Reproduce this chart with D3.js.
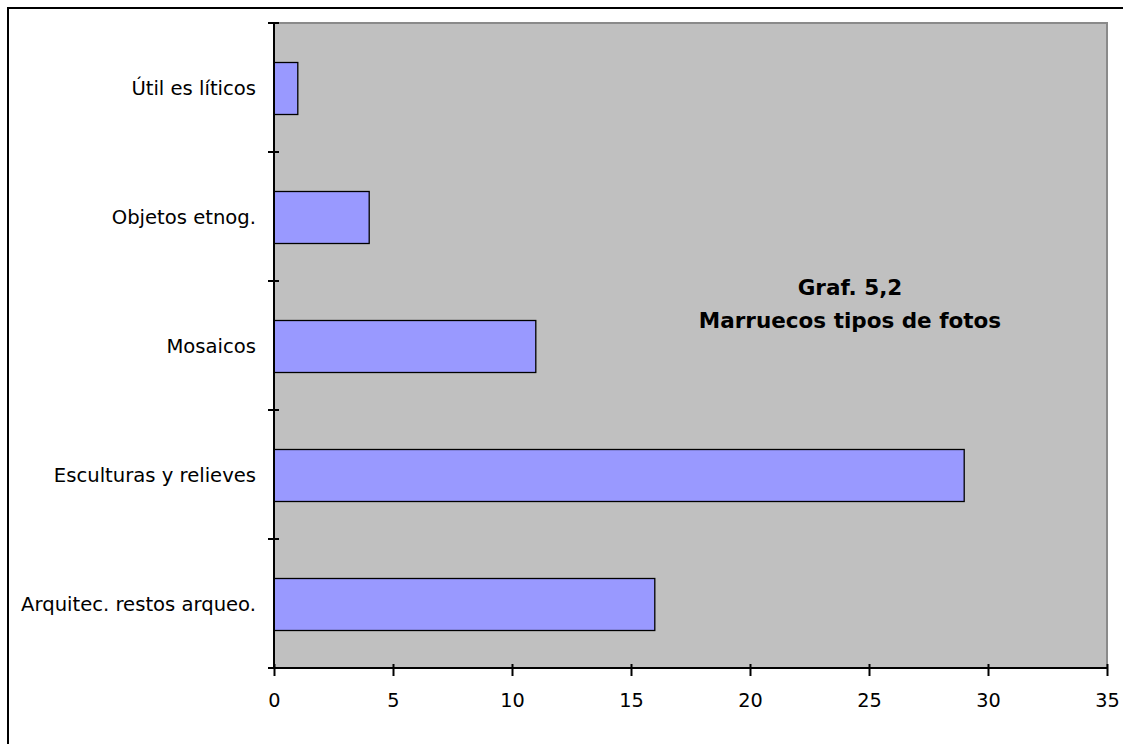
<!DOCTYPE html>
<html>
<head>
<meta charset="utf-8">
<script src="https://cdn.jsdelivr.net/npm/d3@7"></script>
<style>
  html, body { margin: 0; padding: 0; background: #fff; }
  svg { display: block; }
</style>
</head>
<body>
<svg id="chart" width="1123" height="744"></svg>
<script>
// ---- data ----
const categories = ["Útil es líticos", "Objetos etnog.", "Mosaicos", "Esculturas y relieves", "Arquitec. restos arqueo."];
const values = [1, 4, 11, 29, 16];
const xTicks = [0, 5, 10, 15, 20, 25, 30, 35];
const titleLines = ["Graf. 5,2", "Marruecos tipos de fotos"];

// ---- layout ----
const W = 1123, H = 744;
const plot = { left: 274, right: 1107, top: 23, bottom: 668 };

const svg = d3.select("#chart");

// outer border (left + top visible)
svg.append("path")
  .attr("d", `M8,${H} L8,8 L${W},8`)
  .attr("fill", "none").attr("stroke", "#000").attr("stroke-width", 2);

const x = d3.scaleLinear().domain([0, 35]).range([plot.left, plot.right]);
const y = d3.scaleBand().domain(categories).range([plot.top, plot.bottom]).padding(0);

// plot area
svg.append("rect")
  .attr("x", plot.left).attr("y", plot.top)
  .attr("width", plot.right - plot.left).attr("height", plot.bottom - plot.top)
  .attr("fill", "#c0c0c0");
svg.append("path")
  .attr("d", `M${plot.left},${plot.top} L${plot.right},${plot.top} L${plot.right},${plot.bottom}`)
  .attr("fill", "none").attr("stroke", "#8a8a8a").attr("stroke-width", 2);

// bars
const bw = y.bandwidth();
svg.append("g").selectAll("rect")
  .data(categories)
  .join("rect")
  .attr("x", x(0))
  .attr("y", d => Math.round(y(d) + bw * 0.3) + 0.5)
  .attr("width", (d, i) => x(values[i]) - x(0))
  .attr("height", Math.round(bw * 0.4))
  .attr("fill", "#9999ff")
  .attr("stroke", "#000")
  .attr("stroke-width", 1.3);

// y axis (category boundaries as ticks)
const boundaries = categories.map(c => y(c)).concat([plot.bottom]);
svg.append("line")
  .attr("x1", plot.left).attr("x2", plot.left)
  .attr("y1", plot.top).attr("y2", plot.bottom)
  .attr("stroke", "#000").attr("stroke-width", 2);
svg.append("g").selectAll("line")
  .data(boundaries)
  .join("line")
  .attr("x1", plot.left - 6).attr("x2", plot.left + 5)
  .attr("y1", d => d).attr("y2", d => d)
  .attr("stroke", "#000").attr("stroke-width", 2);

// category labels
svg.append("g").selectAll("text")
  .data(categories)
  .join("text")
  .attr("x", plot.left - 18)
  .attr("y", d => y(d) + bw / 2)
  .attr("dy", "0.36em")
  .attr("text-anchor", "end")
  .attr("font-family", "DejaVu Sans")
  .attr("font-size", 19.6)
  .attr("fill", "#000")
  .text(d => d);

// x axis
const xAxis = d3.axisBottom(x).tickValues(xTicks).tickSize(0).tickPadding(0).tickFormat(d3.format("d"));
const gx = svg.append("g")
  .attr("transform", `translate(0,${plot.bottom})`)
  .call(xAxis);
gx.select(".domain").remove();
gx.selectAll(".tick line").remove();
gx.selectAll(".tick").append("line")
  .attr("y1", -4).attr("y2", 8)
  .attr("stroke", "#000").attr("stroke-width", 2);
gx.selectAll(".tick text")
  .attr("y", 39).attr("dy", null)
  .attr("font-family", "DejaVu Sans")
  .attr("font-size", 19.3)
  .attr("fill", "#000");
svg.append("line")
  .attr("x1", plot.left - 6).attr("x2", plot.right)
  .attr("y1", plot.bottom).attr("y2", plot.bottom)
  .attr("stroke", "#000").attr("stroke-width", 2);

// title
svg.append("g").selectAll("text")
  .data(titleLines)
  .join("text")
  .attr("x", 850)
  .attr("y", (d, i) => 295 + i * 33)
  .attr("text-anchor", "middle")
  .attr("font-family", "DejaVu Sans")
  .attr("font-weight", "bold")
  .attr("font-size", 21.5)
  .attr("fill", "#000")
  .text(d => d);
</script>
</body>
</html>
